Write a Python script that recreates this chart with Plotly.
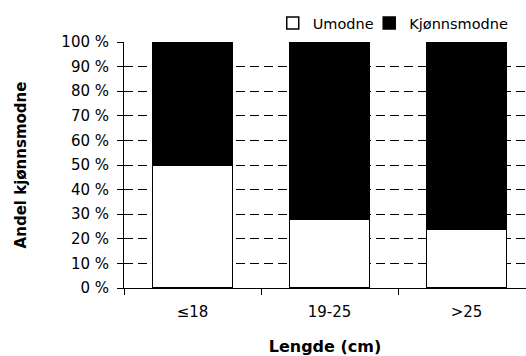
import plotly.graph_objects as go

categories = ["≤18", "19-25", ">25"]
umodne = [50, 28, 24]
kjonnsmodne = [50, 72, 76]
y_ticks = [0, 10, 20, 30, 40, 50, 60, 70, 80, 90, 100]
y_tick_labels = [f"{v} %" for v in y_ticks]

FONT = "DejaVu Sans, Verdana, sans-serif"

fig = go.Figure()
fig.add_trace(go.Bar(
    x=categories, y=umodne, name="Umodne", legend="legend",
    marker=dict(color="white", line=dict(color="black", width=1.5)),
))
fig.add_trace(go.Bar(
    x=categories, y=kjonnsmodne, name="Kjønnsmodne", legend="legend2",
    marker=dict(color="black", line=dict(color="black", width=1.5)),
))

leg_common = dict(orientation="h", xanchor="left", y=1.077, yanchor="middle",
                  font=dict(size=14.5), itemwidth=30, bgcolor="rgba(0,0,0,0)")

fig.update_layout(
    width=526, height=356,
    margin=dict(l=124, r=0, t=42, b=68, autoexpand=False),
    barmode="stack", bargap=0.416,
    plot_bgcolor="white", paper_bgcolor="white",
    font=dict(family=FONT, size=15, color="black"),
    legend=dict(x=0.37, **leg_common),
    legend2=dict(x=0.61, **leg_common),
    showlegend=True,
)
fig.update_xaxes(
    range=[-0.5, 2.434], showline=True, linecolor="black", linewidth=1,
    ticks="outside", tickson="boundaries", ticklen=6, tickcolor="black",
    showgrid=False, ticklabelstandoff=10,
    title=dict(text="<b>Lengde (cm)</b>", font=dict(size=16), standoff=24),
)
fig.update_yaxes(
    range=[0, 100], tickvals=y_ticks, ticktext=y_tick_labels,
    showline=True, linecolor="black", linewidth=1,
    ticks="outside", ticklen=6, tickcolor="black", ticklabelstandoff=5,
    showgrid=True, gridcolor="black", gridwidth=1, griddash="9px,5px",
    zeroline=False,
    title=dict(text="<b>Andel kjønnsmodne</b>", font=dict(size=15), standoff=31),
)

fig.write_html("out.html")
